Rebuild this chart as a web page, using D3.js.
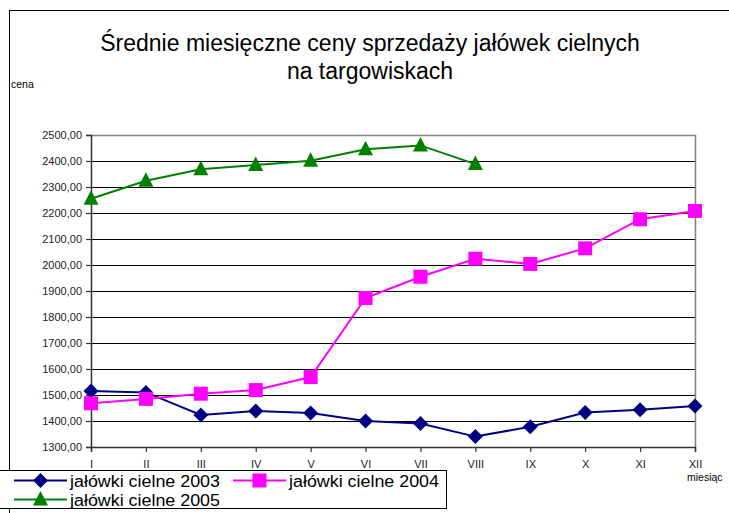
<!DOCTYPE html>
<html>
<head>
<meta charset="utf-8">
<script src="https://cdn.jsdelivr.net/npm/d3@7"></script>
<style>
  body { margin: 0; background: #fff; }
  svg { display: block; font-family: 'Liberation Sans', Arial, sans-serif; }
</style>
</head>
<body>
<script>
// data
var months = ['I', 'II', 'III', 'IV', 'V', 'VI', 'VII', 'VIII', 'IX', 'X', 'XI', 'XII'];
var yTicks = [1300, 1400, 1500, 1600, 1700, 1800, 1900, 2000, 2100, 2200, 2300, 2400, 2500];
var cielne2003 = [1515, 1510, 1423, 1438, 1431, 1400, 1390, 1340, 1378, 1433, 1443, 1458];
var cielne2004 = [1468, 1485, 1505, 1519, 1569, 1873, 1955, 2024, 2004, 2064, 2176, 2208];
var cielne2005 = [2255, 2324, 2368, 2385, 2401, 2445, 2460, 2388];

var series = [
    { name: 'jałówki cielne 2003', values: cielne2003, color: '#000080', marker: 'diamond' },
    { name: 'jałówki cielne 2004', values: cielne2004, color: '#ff00ff', marker: 'square' },
    { name: 'jałówki cielne 2005', values: cielne2005, color: '#008000', marker: 'triangle' }
];

var width = 729, height = 513;
var plotLeft = 91, plotRight = 695, plotTop = 135, plotBottom = 447;

var svg = d3.select('body').append('svg')
    .attr('width', width)
    .attr('height', height);

// outer chart frame (runs off the right / bottom edge)
svg.append('rect')
    .attr('x', 9.5).attr('y', 10.5)
    .attr('width', 760).attr('height', 540)
    .attr('fill', 'none')
    .attr('stroke', '#000')
    .attr('stroke-width', 1);

//scales
var xscale = d3.scalePoint().domain(months).range([plotLeft, plotRight]);
var yscale = d3.scaleLinear().domain([1300, 2500]).range([plotBottom, plotTop]);

//gridlines
svg.append('g').selectAll('line')
    .data(yTicks.slice(1, -1))
    .enter().append('line')
    .attr('x1', plotLeft).attr('x2', plotRight)
    .attr('y1', function (d) { return Math.round(yscale(d)) + 0.5; })
    .attr('y2', function (d) { return Math.round(yscale(d)) + 0.5; })
    .attr('stroke', '#000')
    .attr('stroke-width', 1);

// plot area border (top, right) in gray
svg.append('path')
    .attr('d', 'M' + plotLeft + ',' + (plotTop + 0.5) + 'H' + (plotRight + 0.5) + 'V' + plotBottom)
    .attr('fill', 'none')
    .attr('stroke', '#808080')
    .attr('stroke-width', 1.5);

//axes
var yaxis = d3.axisLeft(yscale)
    .tickValues(yTicks)
    .tickSize(5)
    .tickPadding(4)
    .tickFormat(function (d) { return d + ',00'; });
var xaxis = d3.axisBottom(xscale)
    .tickSize(5)
    .tickPadding(8);

var gy = svg.append('g').attr('transform', 'translate(' + plotLeft + ',0)').call(yaxis);
var gx = svg.append('g').attr('transform', 'translate(0,' + plotBottom + ')').call(xaxis);
[gy, gx].forEach(function (g) {
    g.select('.domain').attr('stroke', '#333').attr('stroke-width', 1.5);
    g.selectAll('.tick line').attr('stroke', '#333').attr('stroke-width', 1.2);
    g.selectAll('.tick text')
        .attr('fill', '#222')
        .attr('font-family', "'Liberation Sans', Arial, sans-serif")
        .attr('font-size', '11px');
});

//markers
function markerPath(type) {
    if (type === 'square') {
        return 'M-7,-7H7V7H-7Z';
    } else if (type === 'diamond') {
        return 'M0,-7.5L7.5,0L0,7.5L-7.5,0Z';
    } else {
        return 'M0,-8.5L7.5,6L-7.5,6Z';
    }
}

var line = d3.line()
    .x(function (d, i) { return xscale(months[i]); })
    .y(function (d) { return yscale(d); });

series.forEach(function (s) {
    var g = svg.append('g');
    g.append('path')
        .datum(s.values)
        .attr('d', line)
        .attr('fill', 'none')
        .attr('stroke', s.color)
        .attr('stroke-width', 2);
    g.selectAll('path.mk')
        .data(s.values)
        .enter().append('path')
        .attr('class', 'mk')
        .attr('d', markerPath(s.marker))
        .attr('transform', function (d, i) {
            return 'translate(' + xscale(months[i]) + ',' + yscale(d) + ')';
        })
        .attr('fill', s.color);
});

//title
var title = svg.append('text')
    .attr('text-anchor', 'middle')
    .attr('font-size', '23px')
    .attr('fill', '#000');
title.append('tspan').attr('x', 370).attr('y', 51).text('Średnie miesięczne ceny sprzedaży jałówek cielnych');
title.append('tspan').attr('x', 370).attr('y', 79).text('na targowiskach');

//axis titles
svg.append('text')
    .attr('x', 11).attr('y', 88)
    .attr('font-size', '10.5px')
    .text('cena');
svg.append('text')
    .attr('x', 687).attr('y', 481)
    .attr('font-size', '10.5px')
    .text('miesiąc');

//legend
svg.append('rect')
    .attr('x', -5.5).attr('y', 470.5)
    .attr('width', 452).attr('height', 38)
    .attr('fill', '#fff')
    .attr('stroke', '#000')
    .attr('stroke-width', 1);

var legendPos = [
    { x: 14, y: 480.5 },
    { x: 233, y: 480.5 },
    { x: 14, y: 499.5 }
];
series.forEach(function (s, i) {
    var p = legendPos[i];
    var g = svg.append('g').attr('transform', 'translate(' + p.x + ',' + p.y + ')');
    g.append('line')
        .attr('x1', 0).attr('x2', 53)
        .attr('stroke', s.color)
        .attr('stroke-width', 2);
    g.append('path')
        .attr('d', markerPath(s.marker))
        .attr('transform', 'translate(26.5,0)')
        .attr('fill', s.color);
    g.append('text')
        .attr('x', 56)
        .attr('y', 6)
        .attr('font-size', '16px')
        .attr('textLength', 150)
        .attr('lengthAdjust', 'spacingAndGlyphs')
        .text(s.name);
});
</script>
</body>
</html>
